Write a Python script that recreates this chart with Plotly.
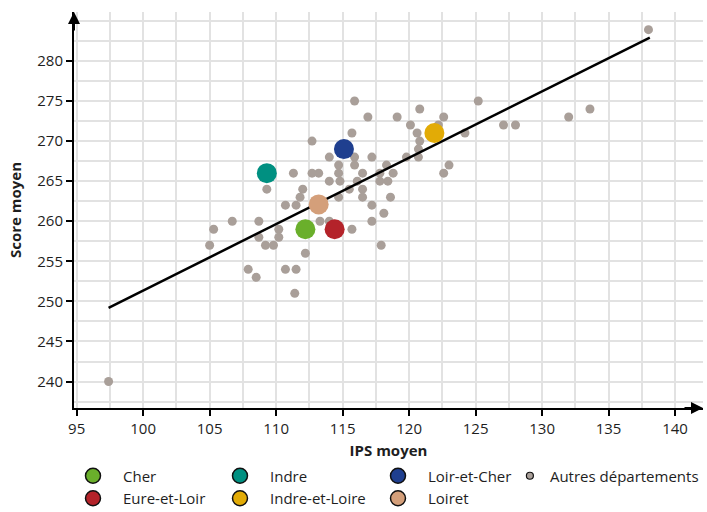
import plotly.graph_objects as go

# ---- Data ----
autres_ips = [97.4, 138.0, 133.6, 132.0, 128.0, 127.1, 125.2, 124.2, 122.6, 123.0,
              122.6, 122.2, 120.8, 120.1, 120.6, 120.8, 120.7, 120.7, 119.8, 119.1,
              118.8, 118.3, 118.4, 117.8, 117.8, 118.6, 118.1, 117.2, 117.2, 117.9,
              116.9, 115.9, 117.2, 115.7, 115.9, 115.9, 116.5, 116.1, 116.5, 115.5,
              116.5, 114.7, 114.8, 114.7, 114.7, 114.0, 115.7, 114.0, 112.7, 113.2,
              112.7, 111.3, 109.3, 112.0, 111.8, 110.7, 111.5, 106.7, 108.7, 105.3,
              110.2, 108.7, 110.2, 105.0, 109.2, 109.8, 112.2, 107.9, 108.5, 110.7,
              111.5, 111.4, 113.3, 114.0]
autres_score = [240, 283.9, 274, 273, 272, 272, 275, 271, 273, 267,
                266, 272, 274, 272, 271, 270, 269, 268, 268, 273,
                266, 267, 265, 266, 265, 263, 261, 262, 260, 257,
                273, 275, 268, 271, 268, 267, 266, 265, 264, 264,
                263, 263, 265, 266, 267, 265, 259, 268, 270, 266,
                266, 266, 264, 264, 263, 262, 262, 260, 260, 259,
                259, 258, 258, 257, 257, 257, 256, 254, 253, 254,
                254, 251, 260, 260]

dept_names = ["Cher", "Eure-et-Loir", "Indre", "Indre-et-Loire", "Loir-et-Cher", "Loiret"]
dept_ips = [112.2, 114.4, 109.3, 121.9, 115.1, 113.2]
dept_score = [259.0, 259.0, 266.0, 271.0, 269.0, 262.1]
dept_colors = ["#6aaf2b", "#b4232a", "#009081", "#e2ab06", "#1f3f8f", "#d49f7a"]
autres_label = "Autres départements"

reg_ips = [97.4, 138.1]
reg_score = [249.2, 282.9]

x_ticks = [95, 100, 105, 110, 115, 120, 125, 130, 135, 140]
y_ticks = [240, 245, 250, 255, 260, 265, 270, 275, 280]

FONT = "Open Sans"
GRID = "#e2e2e2"

fig = go.Figure()

# other departments
fig.add_trace(go.Scatter(
    x=autres_ips, y=autres_score, mode="markers",
    marker=dict(size=9, color="#a99f99", line=dict(width=0)),
    showlegend=False, hoverinfo="skip"))

# regression line
fig.add_trace(go.Scatter(
    x=reg_ips, y=reg_score, mode="lines",
    line=dict(color="black", width=2.5), showlegend=False, hoverinfo="skip"))

# highlighted departments
for n, xi, yi, c in zip(dept_names, dept_ips, dept_score, dept_colors):
    fig.add_trace(go.Scatter(
        x=[xi], y=[yi], mode="markers", name=n,
        marker=dict(size=20, color=c, line=dict(width=0)),
        showlegend=False))

# legend-only traces (4 columns)
legend_of = {"Cher": "legend", "Eure-et-Loir": "legend",
             "Indre": "legend2", "Indre-et-Loire": "legend2",
             "Loir-et-Cher": "legend3", "Loiret": "legend3"}
for n, c in zip(dept_names, dept_colors):
    fig.add_trace(go.Scatter(
        x=[None], y=[None], mode="markers", name=n,
        marker=dict(size=15, color=c, line=dict(width=1.5, color="#111")),
        legend=legend_of[n], showlegend=True))
fig.add_trace(go.Scatter(
    x=[None], y=[None], mode="markers", name=autres_label,
    marker=dict(size=7, color="#a99f99", line=dict(width=1.2, color="#111")),
    legend="legend4", showlegend=True))

axis_common = dict(
    showline=True, linecolor="black", linewidth=2,
    ticks="outside", ticklen=6, tickwidth=1.5, tickcolor="black",
    showgrid=True, gridcolor=GRID, gridwidth=1.5,
    zeroline=False, automargin=False,
    tickfont=dict(family=FONT, size=15, color="#1e1e1e"),
)

fig.update_xaxes(
    range=[94.8, 142.1], tickvals=x_ticks,
    minor=dict(dtick=2.5, tick0=95, showgrid=True, gridcolor=GRID, gridwidth=1.5),
    title=dict(text="<b>IPS moyen</b>", font=dict(family=FONT, size=15, color="#1e1e1e"), standoff=8),
    **axis_common)
fig.update_yaxes(
    range=[236.7, 286.1], tickvals=y_ticks,
    minor=dict(dtick=2.5, tick0=240, showgrid=True, gridcolor=GRID, gridwidth=1.5),
    title=dict(text="<b>Score moyen</b>", font=dict(family=FONT, size=15, color="#1e1e1e"), standoff=12),
    **axis_common)

leg_common = dict(orientation="v", yanchor="top", xanchor="left",
                  font=dict(family=FONT, size=15, color="#1e1e1e"),
                  bgcolor="rgba(0,0,0,0)", tracegroupgap=0)
fig.update_layout(
    width=707, height=512,
    margin=dict(l=74, r=4, t=12, b=104, autoexpand=False),
    plot_bgcolor="white", paper_bgcolor="white",
    font=dict(family=FONT),
    legend=dict(x=-0.0175, y=-0.13, itemwidth=50, **leg_common),
    legend2=dict(x=0.2162, y=-0.13, itemwidth=50, **leg_common),
    legend3=dict(x=0.4674, y=-0.13, itemwidth=50, **leg_common),
    legend4=dict(x=0.693, y=-0.13, itemwidth=30, **leg_common),
    annotations=[
        dict(x=1, y=0, xref="paper", yref="paper", ax=-20, ay=0, text="",
             showarrow=True, arrowhead=2, arrowsize=1.2, arrowwidth=2, arrowcolor="black"),
        dict(x=0, y=1, xref="paper", yref="paper", ax=0, ay=20, text="",
             showarrow=True, arrowhead=2, arrowsize=1.2, arrowwidth=2, arrowcolor="black"),
    ],
)

fig.write_html("out.html", config={"displayModeBar": False},
               post_script="document.body.style.margin='0';")
